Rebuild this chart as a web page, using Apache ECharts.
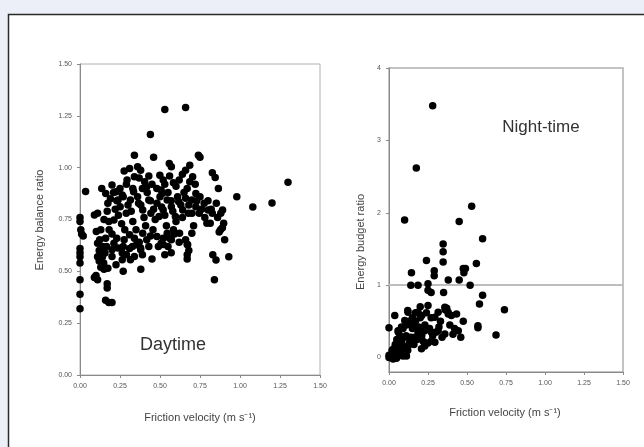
<!DOCTYPE html>
<html>
<head>
<meta charset="utf-8">
<script src="https://cdn.jsdelivr.net/npm/echarts@6/dist/echarts.min.js"></script>
<style>html,body{margin:0;padding:0;background:#eceff8;}#c{width:644px;height:447px;}</style>
</head>
<body>
<div id="c"></div>
<script>
// ---- Data ----
const xTicks = [0, 0.25, 0.5, 0.75, 1.0, 1.25, 1.5];
const dayYTicks = [0, 0.25, 0.5, 0.75, 1.0, 1.25, 1.5];
const nightYTicks = [0, 1, 2, 3, 4];
const nightRefLine = 1;

const dayPoints = [
[0,0.76],[0,0.74],[0.005,0.70],[0.01,0.68],[0.02,0.67],[0,0.61],[0,0.59],[0,0.57],[0,0.54],[0,0.46],[0,0.39],[0,0.32],[0.035,0.885],
[0.09,0.47],[0.11,0.46],[0.10,0.48],[0.17,0.44],[0.17,0.42],[0.16,0.36],[0.18,0.35],[0.2,0.35],[0.13,0.52],[0.15,0.51],[0.12,0.55],[0.14,0.57],[0.11,0.57],
[0.27,0.50],[0.38,0.51],[0.45,0.56],[0.53,0.58],[0.57,0.59],[0.67,0.56],[0.67,0.58],[0.68,0.60],[0.67,0.63],[0.83,0.58],[0.85,0.555],[0.93,0.57],[0.84,0.46],
[0.53,1.28],[0.66,1.29],[0.44,1.16],[0.34,1.06],[0.46,1.05],[0.74,1.06],[0.75,1.05],[1.30,0.93],[0.98,0.86],[1.08,0.81],[1.20,0.83],
[0.276,0.984],[0.31,0.996],[0.36,1.004],[0.379,0.988],[0.294,0.94],[0.34,0.956],[0.404,0.932],[0.417,0.908],[0.507,0.892],[0.514,0.876],
[0.558,1.02],[0.571,1.004],[0.584,0.927],[0.64,0.968],[0.66,0.988],[0.686,1.012],[0.686,0.932],[0.704,0.956],[0.827,0.975],[0.845,0.952],
[0.865,0.9],[0.499,0.964],[0.52,0.94],
[0.136,0.9],[0.161,0.876],[0.2,0.916],[0.225,0.884],[0.238,0.844],[0.264,0.868],[0.174,0.828],[0.11,0.78],[0.09,0.772],[0.102,0.692],
[0.123,0.652],[0.182,0.7],[0.212,0.748],[0.251,0.812],[0.289,0.78],[0.315,0.844],[0.335,0.884],[0.366,0.828],[0.392,0.796],[0.43,0.844],
[0.443,0.78],[0.481,0.828],[0.494,0.764],[0.52,0.796],[0.545,0.844],[0.571,0.812],[0.596,0.764],[0.617,0.836],[0.642,0.796],[0.66,0.852],
[0.678,0.78],[0.699,0.844],[0.724,0.876],[0.75,0.86],[0.776,0.828],[0.801,0.796],[0.827,0.78],[0.852,0.828],[0.891,0.796],[0.898,0.732],
[0.878,0.7],[0.904,0.652],[0.814,0.732],[0.793,0.732],[0.745,0.78],[0.724,0.812],
[0.11,0.636],[0.136,0.604],[0.156,0.588],[0.166,0.62],[0.2,0.604],[0.212,0.636],[0.238,0.612],[0.264,0.588],[0.276,0.652],[0.31,0.676],
[0.328,0.62],[0.353,0.628],[0.379,0.604],[0.392,0.684],[0.417,0.652],[0.456,0.7],[0.481,0.668],[0.507,0.636],[0.52,0.66],[0.545,0.684],
[0.571,0.652],[0.584,0.7],[0.622,0.684],[0.66,0.652],[0.673,0.628],[0.699,0.684],[0.148,0.54],[0.174,0.515],[0.2,0.572],[0.225,0.532],
[0.264,0.556],[0.315,0.556],[0.34,0.572],[0.379,0.612],
[0.22,0.80],[0.24,0.77],[0.26,0.73],[0.28,0.70],[0.30,0.82],[0.32,0.79],[0.33,0.74],[0.35,0.70],[0.36,0.86],[0.38,0.82],[0.40,0.76],
[0.41,0.72],[0.42,0.88],[0.44,0.84],[0.46,0.80],[0.47,0.75],[0.48,0.90],[0.50,0.86],[0.51,0.81],[0.53,0.77],[0.54,0.72],[0.55,0.88],
[0.57,0.84],[0.58,0.79],[0.60,0.74],[0.61,0.86],[0.63,0.82],[0.64,0.76],[0.65,0.88],[0.68,0.82],[0.70,0.78],[0.71,0.72],[0.73,0.84],
[0.76,0.80],[0.78,0.76],[0.80,0.84],[0.82,0.80],[0.86,0.76],[0.88,0.78],[0.89,0.71],[0.87,0.69],[0.20,0.68],[0.18,0.74],[0.16,0.66],
[0.14,0.62],[0.23,0.66],[0.27,0.62],[0.29,0.58],[0.31,0.61],[0.34,0.66],[0.37,0.64],[0.39,0.58],[0.43,0.62],[0.44,0.67],[0.49,0.62],
[0.52,0.63],[0.55,0.62],[0.56,0.66],[0.59,0.68],[0.62,0.64],[0.25,0.90],[0.27,0.86],[0.29,0.92],[0.33,0.90],[0.37,0.95],[0.39,0.90],
[0.43,0.96],[0.45,0.92],[0.53,0.92],[0.56,0.96],[0.60,0.91],[0.62,0.94],[0.67,0.90],[0.72,0.92],[0.12,0.60],[0.13,0.70],[0.15,0.75],
[0.17,0.79],[0.19,0.85],[0.21,0.88],[0.23,0.84]
];

const nightPoints = [
[0.28,3.48],[0.175,2.62],[0.10,1.90],[0.53,2.09],[0.45,1.88],[0.60,1.64],[0.347,1.57],[0.347,1.46],[0.347,1.32],[0.24,1.34],
[0.56,1.30],[0.144,1.17],[0.29,1.2],[0.29,1.13],[0.476,1.23],[0.49,1.23],[0.48,1.17],[0.38,1.07],[0.45,1.07],[0.14,1.0],
[0.186,1.0],[0.25,1.02],[0.25,0.93],[0.27,0.90],[0.35,0.90],[0.52,1.0],[0.60,0.86],[0.58,0.74],[0.74,0.66],[0.686,0.31],
[0.57,0.44],[0.57,0.41],[0.476,0.5],[0.46,0.28],[0,0.41],[0.037,0.58],
[0.122,0.625],[0.186,0.625],[0.21,0.58],[0.25,0.72],[0.294,0.556],[0.315,0.625],[0.358,0.694],[0.379,0.625],[0.40,0.58],[0.433,0.60],
[0.444,0.37],[0.358,0.325],[0.315,0.37],[0.272,0.35],[0.229,0.37],[0.186,0.35],[0.165,0.42],[0.144,0.465],[0.101,0.51],[0.08,0.42],
[0.058,0.37],[0.272,0.23],[0.229,0.16],[0.208,0.12],[0.294,0.21],
[0.101,0.28],[0.08,0.21],[0.058,0.14],[0.037,0.07],[0.015,0.02],[0,0],[0.101,0.09],[0.122,0.16],[0.144,0.23],[0.165,0.28],
[0.069,0.05],[0.048,-0.01],[0.026,-0.02],[0.09,0.02],[0.112,0.02],
[0.01,0.02],[0.02,0.05],[0.03,0.01],[0.04,0.03],[0.05,0.08],[0.06,0.02],[0.07,0.12],[0.08,0.05],[0.09,0.15],[0.1,0.08],
[0.12,0.1],[0.13,0.2],[0.05,0.25],[0.06,0.35],[0.07,0.3],[0.09,0.4],[0.11,0.45],[0.11,0.3],[0.13,0.5],[0.15,0.55],
[0.17,0.5],[0.19,0.42],[0.2,0.55],[0.21,0.3],[0.23,0.45],[0.24,0.62],[0.26,0.4],[0.27,0.55],[0.3,0.35],[0.32,0.42],
[0.33,0.5],[0.34,0.28],[0.36,0.66],[0.37,0.68],[0.38,0.6],[0.39,0.45],[0.41,0.32],[0.42,0.4],[0.28,0.3],[0.25,0.2],
[0.22,0.22],[0.16,0.18],[0.14,0.28],[0.18,0.25],[0.03,0.12],[0.04,0.18],[0.02,0.1],[0.0,0.03],[0.01,0.0],[0.15,0.4],
[0.17,0.62],[0.12,0.65],[0.2,0.7]
];

// ---- Chart ----
const chart = echarts.init(document.getElementById('c'), null, {renderer: 'canvas'});
const fam = 'Liberation Sans Narrow, Liberation Sans, Arial, sans-serif';
const tickFont = {fontFamily: fam, fontSize: 7, color: '#555'};
const axisLineStyle = {color: '#8a8a8a', width: 1};

function xAxisCfg(gi) {
  return {
    gridIndex: gi, type: 'value', min: 0, max: 1.5, interval: 0.25,
    axisLine: {show: true, onZero: false, lineStyle: axisLineStyle},
    axisTick: {show: true, length: 3, lineStyle: axisLineStyle, customValues: xTicks},
    axisLabel: Object.assign({margin: 8, formatter: v => v.toFixed(2), customValues: xTicks}, tickFont),
    splitLine: {show: false}
  };
}

const option = {
  backgroundColor: '#eceff8',
  animation: false,
  graphic: [
    {type: 'rect', z: -100, silent: true, shape: {x: 8.5, y: 14.5, width: 700, height: 500},
     style: {fill: '#ffffff', stroke: '#2a2a2a', lineWidth: 1.5}},
    {type: 'text', x: 40, y: 220, rotation: Math.PI / 2, silent: true,
     style: {text: 'Energy balance ratio', fontSize: 11, fontFamily: fam, fill: '#444', align: 'center', verticalAlign: 'middle'}},
    {type: 'text', x: 361, y: 242, rotation: Math.PI / 2, silent: true,
     style: {text: 'Energy budget ratio', fontSize: 11, fontFamily: fam, fill: '#444', align: 'center', verticalAlign: 'middle'}},
    {type: 'text', x: 200, y: 418, silent: true,
     style: {text: 'Friction velocity (m s\u207B\u00B9)', fontSize: 11, fontFamily: fam, fill: '#444', align: 'center', verticalAlign: 'middle'}},
    {type: 'text', x: 505, y: 413, silent: true,
     style: {text: 'Friction velocity (m s\u207B\u00B9)', fontSize: 11, fontFamily: fam, fill: '#444', align: 'center', verticalAlign: 'middle'}},
    {type: 'text', x: 173, y: 345, silent: true,
     style: {text: 'Daytime', fontSize: 18, fontFamily: fam, fill: '#333', align: 'center', verticalAlign: 'middle'}},
    {type: 'text', x: 541, y: 127, silent: true,
     style: {text: 'Night-time', fontSize: 17, fontFamily: fam, fill: '#333', align: 'center', verticalAlign: 'middle'}}
  ],
  grid: [
    {left: 80, top: 64, width: 240, height: 311, show: true, borderColor: '#b0b0b0', borderWidth: 1, backgroundColor: 'transparent'},
    {left: 389, top: 68, width: 234, height: 304, show: true, borderColor: '#b0b0b0', borderWidth: 1.5, backgroundColor: 'transparent'}
  ],
  xAxis: [xAxisCfg(0), xAxisCfg(1)],
  yAxis: [
    {gridIndex: 0, type: 'value', min: 0, max: 1.5, interval: 0.25,
     axisLine: {show: true, lineStyle: axisLineStyle},
     axisTick: {show: true, length: 3, lineStyle: axisLineStyle},
     axisLabel: Object.assign({margin: 8, formatter: v => v.toFixed(2)}, tickFont),
     splitLine: {show: false}},
    {gridIndex: 1, type: 'value', min: -0.2, max: 4,
     axisLine: {show: true, onZero: false, lineStyle: axisLineStyle},
     axisTick: {show: true, length: 3, lineStyle: axisLineStyle, customValues: nightYTicks},
     axisLabel: Object.assign({margin: 8, customValues: nightYTicks, formatter: v => String(v)}, tickFont),
     splitLine: {show: false}}
  ],
  series: [
    {type: 'scatter', xAxisIndex: 0, yAxisIndex: 0, data: dayPoints, symbol: 'circle', symbolSize: 7.5,
     itemStyle: {color: '#000', opacity: 1}, silent: true, z: 3},
    {type: 'scatter', xAxisIndex: 1, yAxisIndex: 1, data: nightPoints, symbol: 'circle', symbolSize: 7.5,
     itemStyle: {color: '#000', opacity: 1}, silent: true, z: 3,
     markLine: {silent: true, symbol: 'none', label: {show: false}, z: 1,
       lineStyle: {color: '#bdbdbd', width: 2, type: 'solid'},
       data: [{yAxis: nightRefLine}]}}
  ]
};
chart.setOption(option);
</script>
</body>
</html>
